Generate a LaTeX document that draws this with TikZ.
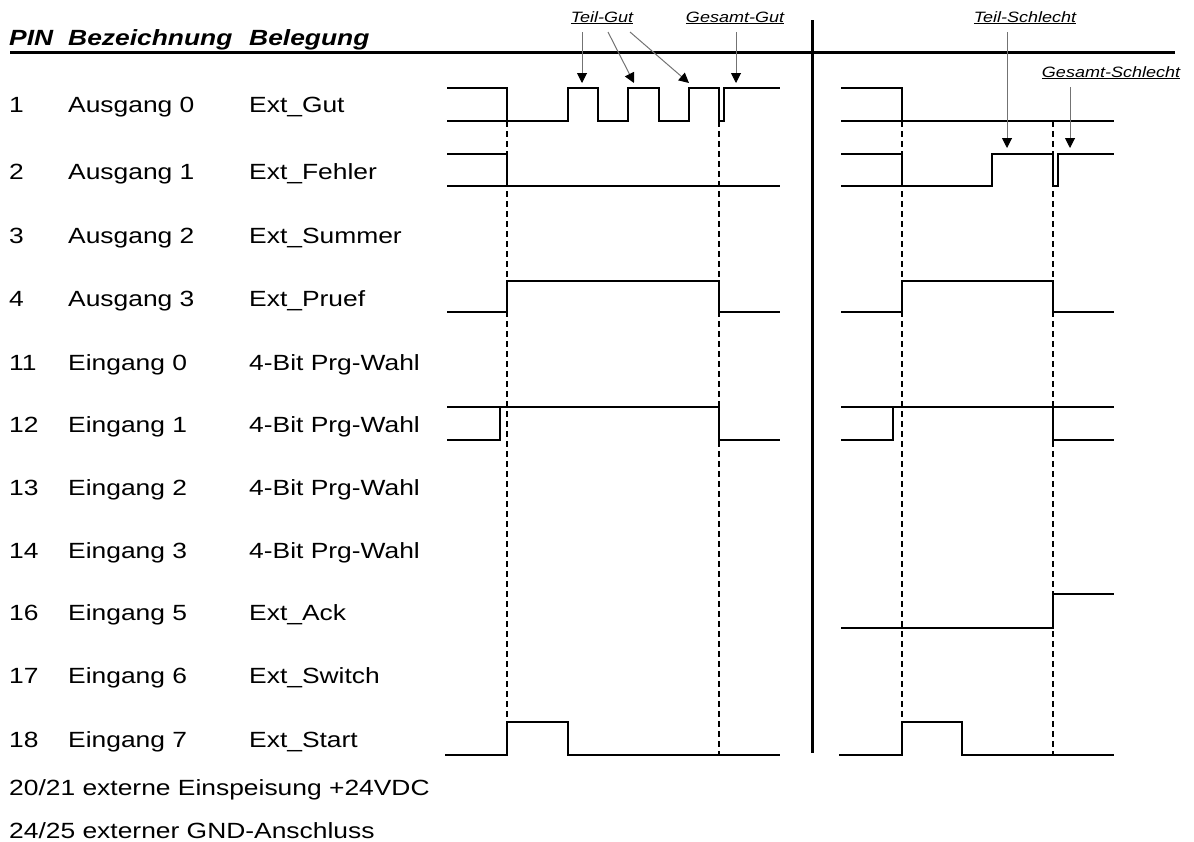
\documentclass[tikz,border=0pt]{standalone}
\usepackage{fontspec}
\setmainfont{Liberation Sans}[FakeStretch=1.2]
\usetikzlibrary{arrows.meta}
\begin{document}
\begin{tikzpicture}[x=1pt,y=-1pt,
  lbl/.style={font=\fontsize{22}{26}\selectfont, anchor=base west, inner sep=0pt},
  hdr/.style={font=\fontsize{22}{26}\selectfont\bfseries\itshape, anchor=base west, inner sep=0pt},
  ann/.style={font=\fontsize{15}{18}\selectfont\itshape, anchor=base, inner sep=0pt},
  wave/.style={line width=2.6pt},
  guide/.style={line width=2.4pt, dash pattern=on 6pt off 4pt},
  rule/.style={line width=3pt},
  ptr/.style={draw=black!55, line width=1pt, -{Triangle[width=10pt,length=10pt,color=black]}}]
\useasboundingbox (0,0) rectangle (1194,841);

% header
\node[hdr] (hpin) at (9,45) {PIN};
\node[hdr] (hbez) at (68,45) {Bezeichnung};
\node[hdr] (hbel) at (249,45) {Belegung};
\draw[rule] (10,52) -- (1175,52);
\draw[rule] (812,20) -- (812,753);

% table rows
\foreach \n/\p/\b/\c/\y in {
  r1/1/Ausgang 0/Ext\_Gut/112,
  r2/2/Ausgang 1/Ext\_Fehler/179,
  r3/3/Ausgang 2/Ext\_Summer/243,
  r4/4/Ausgang 3/Ext\_Pruef/306,
  r11/11/Eingang 0/4-Bit Prg-Wahl/370,
  r12/12/Eingang 1/4-Bit Prg-Wahl/432,
  r13/13/Eingang 2/4-Bit Prg-Wahl/495,
  r14/14/Eingang 3/4-Bit Prg-Wahl/558,
  r16/16/Eingang 5/Ext\_Ack/620,
  r17/17/Eingang 6/Ext\_Switch/683,
  r18/18/Eingang 7/Ext\_Start/747}{
  \node[lbl] (\n pin) at (9,\y) {\p};
  \node[lbl] (\n bez) at (68,\y) {\b};
  \node[lbl] (\n bel) at (249,\y) {\c};
}
\node[lbl] (vdc) at (9,795) {20/21 externe Einspeisung +24VDC};
\node[lbl] (gnd) at (9,838) {24/25 externer GND-Anschluss};

% dashed guides
\draw[guide] (507,121) -- (507,755);
\draw[guide] (719,121) -- (719,755);
\draw[guide] (902,121) -- (902,755);
\draw[guide] (1053,121) -- (1053,755);

% left waveforms
\draw[wave] (447,88) -- (507,88) -- (507,121);
\draw[wave] (447,121) -- (568,121) -- (568,88) -- (598,88) -- (598,121) -- (628,121) -- (628,88) -- (659,88) -- (659,121) -- (689,121) -- (689,88) -- (719,88) -- (719,121) -- (724,121) -- (724,88) -- (780,88);
\draw[wave] (447,154) -- (507,154) -- (507,186);
\draw[wave] (447,186) -- (780,186);
\draw[wave] (447,312) -- (507,312) -- (507,281) -- (719,281) -- (719,312) -- (780,312);
\draw[wave] (447,407) -- (719,407) -- (719,440) -- (780,440);
\draw[wave] (447,440) -- (500,440) -- (500,407);
\draw[wave] (445,755) -- (507,755) -- (507,722) -- (568,722) -- (568,755) -- (780,755);

% right waveforms
\draw[wave] (841,88) -- (902,88) -- (902,121);
\draw[wave] (841,121) -- (1114,121);
\draw[wave] (841,154) -- (902,154) -- (902,186);
\draw[wave] (841,186) -- (992,186) -- (992,154) -- (1053,154) -- (1053,186) -- (1058,186) -- (1058,154) -- (1114,154);
\draw[wave] (841,312) -- (902,312) -- (902,281) -- (1053,281) -- (1053,312) -- (1114,312);
\draw[wave] (841,407) -- (1114,407);
\draw[wave] (841,440) -- (893,440) -- (893,407);
\draw[wave] (1053,407) -- (1053,440) -- (1114,440);
\draw[wave] (841,628) -- (1053,628) -- (1053,594) -- (1114,594);
\draw[wave] (839,755) -- (902,755) -- (902,722) -- (962,722) -- (962,755) -- (1114,755);

% annotations
\node[ann] (tgut) at (602,22) {\underline{Teil-Gut}};
\node[ann] (ggut) at (735,22) {\underline{Gesamt-Gut}};
\node[ann] (tsch) at (1025,22) {\underline{Teil-Schlecht}};
\node[ann] (gsch) at (1111,77) {\underline{Gesamt-Schlecht}};

\coordinate (a1s) at (582,32);  \coordinate (a1e) at (582,83);
\coordinate (a2s) at (608,32);  \coordinate (a2e) at (634,83);
\coordinate (a3s) at (630,32);  \coordinate (a3e) at (689,83);
\coordinate (a4s) at (736,32);  \coordinate (a4e) at (736,83);
\coordinate (a5s) at (1007,32); \coordinate (a5e) at (1007,148);
\coordinate (a6s) at (1070,87); \coordinate (a6e) at (1070,148);
\draw[ptr] (a1s) -- (a1e);
\draw[ptr] (a2s) -- (a2e);
\draw[ptr] (a3s) -- (a3e);
\draw[ptr] (a4s) -- (a4e);
\draw[ptr] (a5s) -- (a5e);
\draw[ptr] (a6s) -- (a6e);
\end{tikzpicture}
\end{document}
